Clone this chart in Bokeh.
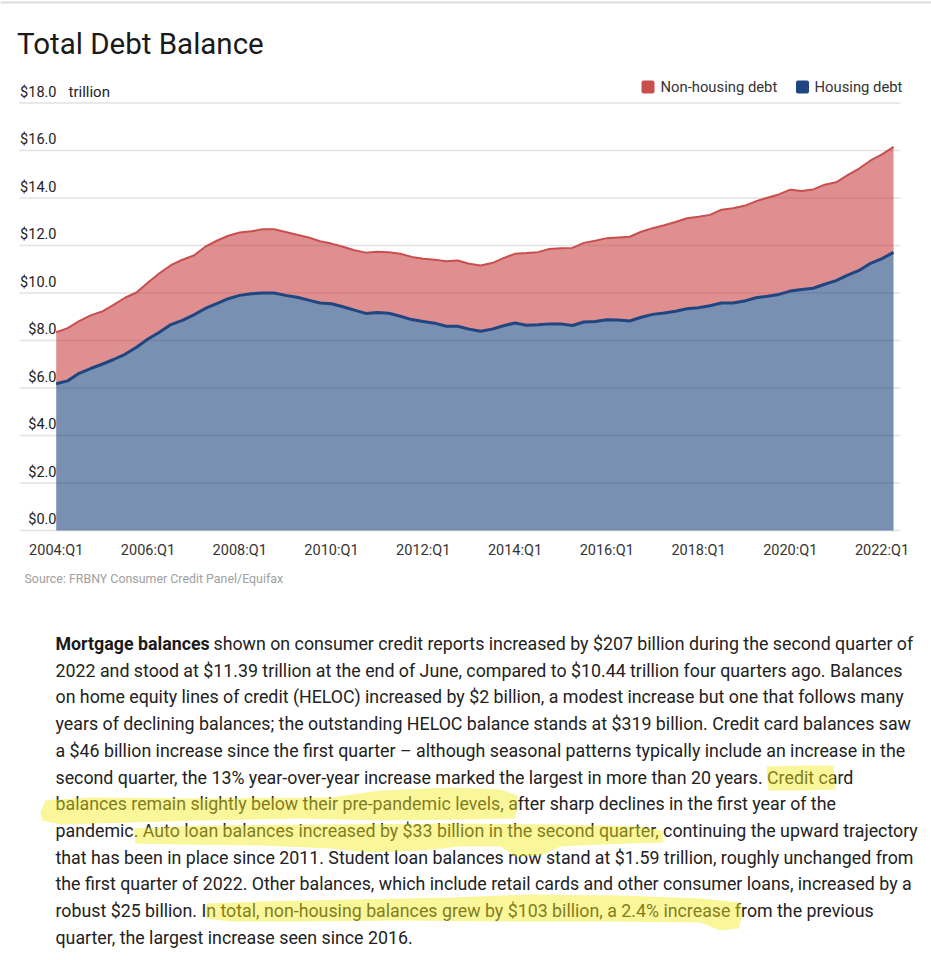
from bokeh.plotting import figure
from bokeh.models import Range1d, Label
from bokeh.layouts import column
from bokeh.embed import file_html
from bokeh.resources import INLINE
from bokeh.core.properties import value

# ---------------- data (trillions of dollars, quarterly 2004:Q1 .. 2022:Q2) ----------------
total_debt = [8.35, 8.52, 8.82, 9.06, 9.22, 9.50, 9.80, 10.02, 10.44, 10.83,
              11.17, 11.40, 11.58, 11.95, 12.20, 12.41, 12.55, 12.60, 12.68, 12.68,
              12.57, 12.45, 12.34, 12.18, 12.08, 11.95, 11.80, 11.70, 11.74, 11.72,
              11.65, 11.52, 11.44, 11.40, 11.34, 11.37, 11.23, 11.16, 11.26, 11.47,
              11.65, 11.68, 11.72, 11.85, 11.88, 11.90, 12.11, 12.20, 12.31, 12.34,
              12.37, 12.58, 12.73, 12.85, 12.99, 13.15, 13.21, 13.29, 13.51, 13.57,
              13.67, 13.86, 14.01, 14.15, 14.35, 14.29, 14.36, 14.56, 14.66, 14.96,
              15.24, 15.58, 15.84, 16.15]
housing_debt = [6.18, 6.30, 6.62, 6.82, 7.00, 7.20, 7.42, 7.72, 8.06, 8.35,
                8.67, 8.85, 9.08, 9.35, 9.55, 9.76, 9.90, 9.97, 10.00, 10.00,
                9.90, 9.82, 9.70, 9.58, 9.55, 9.42, 9.28, 9.14, 9.18, 9.15,
                9.02, 8.88, 8.80, 8.73, 8.60, 8.60, 8.48, 8.39, 8.48, 8.62,
                8.74, 8.64, 8.66, 8.70, 8.70, 8.63, 8.78, 8.80, 8.87, 8.86,
                8.82, 8.98, 9.10, 9.16, 9.23, 9.34, 9.38, 9.46, 9.58, 9.58,
                9.66, 9.80, 9.86, 9.94, 10.08, 10.15, 10.20, 10.37, 10.52, 10.75,
                10.95, 11.25, 11.45, 11.71]
quarter_index = list(range(len(total_debt)))

x_tick_pos = [0, 8, 16, 24, 32, 40, 48, 56, 64, 72]
x_tick_labels = ["2004:Q1", "2006:Q1", "2008:Q1", "2010:Q1", "2012:Q1",
                 "2014:Q1", "2016:Q1", "2018:Q1", "2020:Q1", "2022:Q1"]
y_ticks = [0, 2, 4, 6, 8, 10, 12, 14, 16, 18]
y_tick_labels = ["$0.0", "$2.0", "$4.0", "$6.0", "$8.0", "$10.0", "$12.0", "$14.0", "$16.0", "$18.0"]

series_names = ["Non-housing debt", "Housing debt"]

paragraph_lines = [
    "Mortgage balances shown on consumer credit reports increased by $207 billion during the second quarter of",
    "2022 and stood at $11.39 trillion at the end of June, compared to $10.44 trillion four quarters ago. Balances",
    "on home equity lines of credit (HELOC) increased by $2 billion, a modest increase but one that follows many",
    "years of declining balances; the outstanding HELOC balance stands at $319 billion. Credit card balances saw",
    "a $46 billion increase since the first quarter \u2013 although seasonal patterns typically include an increase in the",
    "second quarter, the 13% year-over-year increase marked the largest in more than 20 years. Credit card",
    "balances remain slightly below their pre-pandemic levels, after sharp declines in the first year of the",
    "pandemic. Auto loan balances increased by $33 billion in the second quarter, continuing the upward trajectory",
    "that has been in place since 2011. Student loan balances now stand at $1.59 trillion, roughly unchanged from",
    "the first quarter of 2022. Other balances, which include retail cards and other consumer loans, increased by a",
    "robust $25 billion. In total, non-housing balances grew by $103 billion, a 2.4% increase from the previous",
    "quarter, the largest increase seen since 2016.",
]
bold_lead = "Mortgage balances"

FONT = "Roboto"
RED = "#c94f4f"
RED_FILL = "#c94545"
BLUE = "#1f4680"
TXT = "#222222"

W = 931
HA = 600
HB = 360

# ---------------- chart figure (frame fills the whole figure) ----------------
PX_PER_Q = 11.47
PX_PER_T = 23.75
X0_PAGE = 55.7   # page x of first quarter
Y0_PAGE = 530.0  # page y of zero
x_start = -X0_PAGE / PX_PER_Q
y_end = Y0_PAGE / PX_PER_T
pA = figure(width=W, height=HA, output_backend="svg", toolbar_location=None,
            x_range=Range1d(x_start, x_start + W / PX_PER_Q),
            y_range=Range1d(y_end - HA / PX_PER_T, y_end),
            x_axis_location=None, y_axis_location=None, min_border=0)
pA.outline_line_color = None
pA.grid.visible = False
pA.background_fill_color = "white"
pA.border_fill_color = "white"
pA.extra_x_ranges = {"px": Range1d(0, W)}
pA.extra_y_ranges = {"py": Range1d(HA, 0)}

# thin divider at the very top
pA.segment(x0=[0], x1=[W], y0=[2], y1=[2], x_range_name="px", y_range_name="py",
           line_color="#dcdcdc", line_width=2)

# horizontal grid lines at the y ticks
pA.segment(x0=[19] * len(y_ticks), x1=[900] * len(y_ticks), y0=y_ticks, y1=y_ticks,
           x_range_name="px", line_color="#e2e2e2", line_width=1.5)

pA.varea(x=quarter_index, y1=[0] * len(housing_debt), y2=housing_debt,
         fill_color=BLUE, fill_alpha=0.6)
pA.varea(x=quarter_index, y1=housing_debt, y2=total_debt,
         fill_color=RED_FILL, fill_alpha=0.6)
pA.line(quarter_index, housing_debt, line_color=BLUE, line_width=3)
pA.line(quarter_index, total_debt, line_color=RED, line_width=2)

# y tick labels (sitting just above their grid lines)
pA.text(x=[56] * len(y_ticks), y=y_ticks, text=y_tick_labels, x_range_name="px",
        text_align="right", text_baseline="middle", y_offset=-11,
        text_font=value(FONT), text_font_size="14.5px", text_color=TXT)
# x tick labels
pA.text(x=x_tick_pos, y=[0] * len(x_tick_pos), text=x_tick_labels,
        text_align="center", text_baseline="middle", y_offset=20,
        text_font=value(FONT), text_font_size="14.5px", text_color="#333333")

pA.add_layout(Label(x=68, y=91.5, x_range_name="px", y_range_name="py", text="trillion",
                    text_baseline="middle", text_font=FONT, text_font_size="15px",
                    text_color=TXT))
pA.add_layout(Label(x=16.5, y=43.5, x_range_name="px", y_range_name="py", text="Total Debt Balance",
                    text_baseline="middle", text_font=FONT, text_font_size="29.5px",
                    text_color="#1a1a1a"))
pA.add_layout(Label(x=24, y=578, x_range_name="px", y_range_name="py",
                    text="Source: FRBNY Consumer Credit Panel/Equifax",
                    text_baseline="middle", text_font=FONT, text_font_size="12.4px",
                    text_color="#a0a0a0"))

# legend (swatches + labels)
pA.rect(x=[647.5, 802], y=[86.5, 86.5], width=13, height=13, x_range_name="px", y_range_name="py",
        fill_color=[RED, BLUE], line_color=None, border_radius=2)
pA.text(x=[660, 814], y=[86.5, 86.5], text=series_names, x_range_name="px", y_range_name="py",
        text_align="left", text_baseline="middle",
        text_font=value(FONT), text_font_size="14.8px", text_color="#333333")

# ---------------- paragraph figure (coordinates = page pixels) ----------------
pB = figure(width=W, height=HB, output_backend="svg", toolbar_location=None,
            x_range=Range1d(0, W), y_range=Range1d(HA + HB, HA),
            x_axis_location=None, y_axis_location=None, min_border=0)
pB.outline_line_color = None
pB.grid.visible = False

FS = "17.8px"
left_x = 55
mid_y = 643.0
line_gap = 26.7
ys = [mid_y + i * line_gap for i in range(len(paragraph_lines))]

rest_first = paragraph_lines[0][len(bold_lead) + 1:]
pB.text(x=[left_x], y=[ys[0]], text=[bold_lead], text_baseline="middle",
        text_font=value(FONT), text_font_size=FS, text_font_style="bold", text_color="#1a1a1a")
pB.text(x=[213], y=[ys[0]], text=[rest_first], text_baseline="middle",
        text_font=value(FONT), text_font_size=FS, text_color=TXT)
pB.text(x=[left_x] * (len(paragraph_lines) - 1), y=ys[1:], text=paragraph_lines[1:],
        text_baseline="middle", text_font=value(FONT), text_font_size=FS,
        text_color=TXT)

# highlighter strokes
hl_xs = [
    [766, 800, 833, 835, 800, 768],
    [40, 45, 90, 200, 330, 380, 450, 500, 517, 518, 514, 470, 380, 300, 200, 130, 60, 42],
    [133, 200, 330, 450, 560, 640, 662, 663, 600, 560, 540, 515, 500, 460, 420, 370, 330, 260, 180, 135],
    [205, 260, 350, 450, 530, 620, 700, 740, 742, 738, 720, 700, 600, 500, 400, 300, 230, 206],
]
hl_ys = [
    [766, 765, 765, 789, 790, 790],
    [812, 800, 797, 798, 797, 790, 787, 789, 795, 805, 818, 819, 820, 818, 820, 822, 824, 820],
    [828, 825, 824, 823, 824, 826, 830, 842, 844, 846, 855, 856, 846, 846, 850, 852, 848, 845, 844, 843],
    [903, 901, 899, 897, 894, 895, 898, 902, 915, 928, 930, 922, 921, 921, 920, 921, 921, 918],
]
pB.patches(xs=hl_xs, ys=hl_ys, fill_color="#f5ea20", fill_alpha=0.45, line_color=None)

layout = column(pA, pB, spacing=0)
open("out.html", "w").write(file_html(layout, INLINE))
